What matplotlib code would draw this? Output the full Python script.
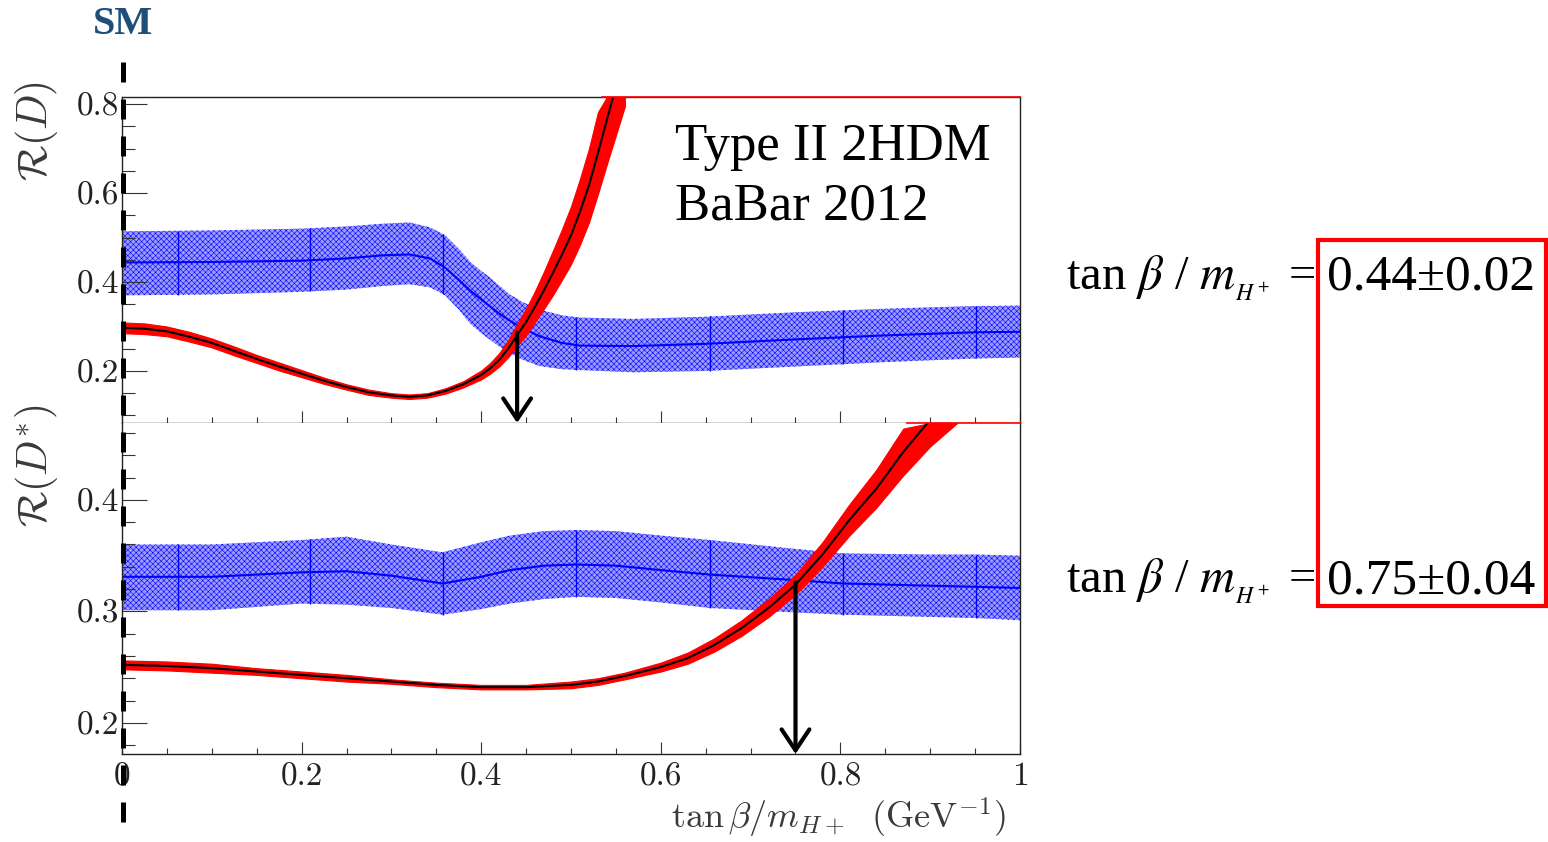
import numpy as np
import matplotlib.pyplot as plt
from matplotlib.patches import Rectangle
from matplotlib.lines import Line2D
from matplotlib.ticker import MultipleLocator, FuncFormatter

plt.rcParams['mathtext.fontset'] = 'cm'
plt.rcParams['hatch.linewidth'] = 0.4

# ---- R(D): BaBar measurement band (blue) ----
xd_exp = [0, 0.1, 0.2, 0.25, 0.29, 0.32, 0.343, 0.36, 0.375, 0.388, 0.40, 0.41, 0.42, 0.432, 0.445, 0.465,
          0.49, 0.51, 0.57, 0.65, 0.75, 0.85, 0.95, 1.0]
rd_exp = [0.444, 0.445, 0.448, 0.453, 0.460, 0.462, 0.453, 0.432, 0.405, 0.38, 0.361, 0.345, 0.329, 0.313,
          0.297, 0.278, 0.263, 0.257, 0.256, 0.261, 0.271, 0.28, 0.287, 0.288]
rd_exp_hi = [0.514, 0.516, 0.52, 0.525, 0.531, 0.534, 0.523, 0.505, 0.475, 0.445, 0.425, 0.41, 0.392, 0.372,
             0.356, 0.338, 0.325, 0.32, 0.317, 0.322, 0.332, 0.34, 0.346, 0.347]
rd_exp_lo = [0.370, 0.372, 0.378, 0.383, 0.391, 0.395, 0.388, 0.37, 0.338, 0.306, 0.285, 0.27, 0.255, 0.24,
             0.226, 0.211, 0.204, 0.202, 0.197, 0.2, 0.21, 0.22, 0.228, 0.23]

# ---- R(D): type II 2HDM prediction (red) ----
xd_th = [0, 0.025, 0.05, 0.075, 0.1, 0.125, 0.15, 0.175, 0.2, 0.225, 0.25, 0.275, 0.3, 0.32, 0.34, 0.36,
         0.38, 0.4, 0.41, 0.42, 0.43, 0.44, 0.45, 0.46, 0.47, 0.48, 0.49, 0.5, 0.51, 0.52, 0.53, 0.54, 0.55, 0.56]
rd_th = [0.297, 0.295, 0.289, 0.277, 0.263, 0.245, 0.227, 0.210, 0.194, 0.178, 0.164, 0.152, 0.145, 0.142,
         0.145, 0.155, 0.17, 0.191, 0.206, 0.225, 0.25, 0.281, 0.31, 0.345, 0.382, 0.421, 0.462, 0.505, 0.558,
         0.617, 0.69, 0.765, 0.84, 0.915]
rd_th_err = [0.012, 0.012, 0.011, 0.011, 0.010, 0.010, 0.009, 0.009, 0.008, 0.007, 0.006, 0.006, 0.005, 0.005,
             0.005, 0.006, 0.007, 0.01, 0.012, 0.015, 0.019, 0.025, 0.03, 0.035, 0.042, 0.05, 0.057, 0.065,
             0.074, 0.083, 0.092, 0.1, 0.11, 0.12]

# ---- R(D*): BaBar measurement band (blue) ----
xds_exp = [0, 0.1, 0.2, 0.25, 0.3, 0.357, 0.4, 0.432, 0.47, 0.506, 0.55, 0.6, 0.655, 0.75, 0.803, 0.9, 0.951, 1.0]
rds_exp = [0.331, 0.331, 0.335, 0.336, 0.332, 0.325, 0.331, 0.337, 0.341, 0.342, 0.341, 0.337, 0.333, 0.328,
           0.325, 0.323, 0.322, 0.321]
rds_exp_hi = [0.36, 0.36, 0.364, 0.367, 0.36, 0.353, 0.362, 0.368, 0.372, 0.373, 0.372, 0.368, 0.364, 0.356,
              0.352, 0.351, 0.351, 0.35]
rds_exp_lo = [0.301, 0.301, 0.307, 0.306, 0.303, 0.297, 0.302, 0.307, 0.311, 0.313, 0.312, 0.308, 0.303, 0.299,
              0.297, 0.295, 0.294, 0.292]

# ---- R(D*): type II 2HDM prediction (red) ----
xds_th = [0, 0.05, 0.1, 0.15, 0.2, 0.25, 0.3, 0.35, 0.4, 0.45, 0.5, 0.53, 0.56, 0.6, 0.63, 0.66, 0.69, 0.72,
          0.75, 0.78, 0.81, 0.84, 0.87, 0.9, 0.93]
rds_th = [0.252, 0.251, 0.249, 0.246, 0.243, 0.24, 0.237, 0.234, 0.232, 0.232, 0.234, 0.237, 0.242, 0.25,
          0.258, 0.27, 0.285, 0.303, 0.324, 0.351, 0.382, 0.41, 0.443, 0.472, 0.505]
rds_th_err = [0.004, 0.004, 0.004, 0.003, 0.003, 0.003, 0.002, 0.002, 0.002, 0.002, 0.003, 0.003, 0.003, 0.004,
              0.005, 0.006, 0.007, 0.008, 0.009, 0.011, 0.014, 0.017, 0.021, 0.024, 0.028]

# error bar positions of the measured points
bar_x = [0.062, 0.209, 0.357, 0.506, 0.655, 0.803, 0.951]

# crossing points (arrows) and results
cross_x = [0.44, 0.75]
cross_y = [0.286, 0.326]
results = ['0.44\u00b10.02', '0.75\u00b10.04']

ylim_d = (0.083, 0.816)
ylim_ds = (0.172, 0.469)

W, H = 1548, 842
fig = plt.figure(figsize=(W / 100, H / 100), dpi=100)


def fx(px):
    return px / W


def fy(py):
    return 1 - py / H


ax1 = fig.add_axes([fx(122), fy(423), fx(1020) - fx(122), fy(97) - fy(423)])
ax2 = fig.add_axes([fx(122), fy(754), fx(1020) - fx(122), fy(423) - fy(754)])


def draw_panel(ax, xe, ce, he, le, xt, ct, et, ylim, major, minor, ax_x, ax_y):
    ax.fill_between(xe, le, he, facecolor='#9a9aff', edgecolor='blue', hatch='xxxxxx', linewidth=0, zorder=1)
    ax.plot(xe, ce, color='blue', lw=1.5, zorder=2)
    ax.vlines(bar_x, np.interp(bar_x, xe, le), np.interp(bar_x, xe, he), color='blue', lw=1, zorder=2)
    ct = np.array(ct)
    et = np.array(et)
    lo = np.clip(ct - et, ylim[0], ylim[1])
    hi = np.clip(ct + et, ylim[0], ylim[1])
    ax.fill_between(xt, lo, hi, color='red', lw=0.8, zorder=3)
    ax.plot(xt, ct, color='black', lw=1.5, zorder=4)
    # red edge of the band running along the upper frame
    x_top = np.interp(ylim[1], ct + et, xt)
    ax.plot([x_top, 1], [ylim[1], ylim[1]], color='red', lw=1.2, clip_on=False, zorder=5)

    ax.annotate('', xy=(ax_x, ylim[0]), xytext=(ax_x, ax_y),
                arrowprops=dict(arrowstyle='->,head_length=0.75,head_width=0.5', lw=3,
                                color='black', shrinkA=0, shrinkB=0, mutation_scale=20),
                zorder=6)

    ax.set_xlim(0, 1)
    ax.set_ylim(*ylim)
    ax.xaxis.set_major_locator(MultipleLocator(0.2))
    ax.xaxis.set_minor_locator(MultipleLocator(0.05))
    ax.yaxis.set_major_locator(MultipleLocator(major))
    ax.yaxis.set_minor_locator(MultipleLocator(minor))
    ax.tick_params(axis='x', which='major', direction='in', length=9, width=0.8, color='#333333')
    ax.tick_params(axis='x', which='minor', direction='in', length=4.5, width=0.8, color='#333333')
    ax.tick_params(axis='y', which='major', direction='in', length=18, width=0.8, color='#333333', pad=2)
    ax.tick_params(axis='y', which='minor', direction='in', length=9, width=0.8, color='#333333')
    ax.tick_params(labelsize=24, labelfontfamily='cmr10', labelcolor='#222222')
    ax.yaxis.set_major_formatter(FuncFormatter(lambda v, p: f'{v:g}'))
    ax.xaxis.set_major_formatter(FuncFormatter(lambda v, p: f'{v:g}'))
    for s in ax.spines.values():
        s.set_linewidth(1.0)
        s.set_color('#222222')


draw_panel(ax1, xd_exp, rd_exp, rd_exp_hi, rd_exp_lo, xd_th, rd_th, rd_th_err,
           ylim_d, 0.2, 0.05, cross_x[0], cross_y[0])
draw_panel(ax2, xds_exp, rds_exp, rds_exp_hi, rds_exp_lo, xds_th, rds_th, rds_th_err,
           ylim_ds, 0.1, 0.02, cross_x[1], cross_y[1])
ax1.set_yticks([0.2, 0.4, 0.6, 0.8])
ax1.tick_params(axis='x', labelbottom=False)
ax2.set_yticks([0.2, 0.3, 0.4])
ax2.tick_params(axis='x', pad=6)
ax2.spines['top'].set_visible(False)

# axis titles
fig.text(fx(36), fy(131), r'$\mathcal{R}(D)$', rotation=90, ha='center', va='center',
         fontsize=30, color='#3a3a3a')
fig.text(fx(36), fy(466), r'$\mathcal{R}(D^{*})$', rotation=90, ha='center', va='center',
         fontsize=30, color='#3a3a3a')
fig.text(fx(1006), fy(829), r'$\tan\beta/m_{H+}\ \ (\mathrm{GeV}^{-1})$', ha='right', va='baseline',
         fontsize=26, color='#3a3a3a')

# plot annotation
fig.text(fx(675), fy(160), 'Type II 2HDM', fontsize=38, family='Liberation Serif', va='baseline')
fig.text(fx(675), fy(220), 'BaBar 2012', fontsize=38, family='Liberation Serif', va='baseline')

# SM line
fig.add_artist(Line2D([fx(123), fx(123)], [fy(62), fy(830)], transform=fig.transFigure,
                      color='black', lw=3.6, dashes=(4, 3.4)))
fig.text(fx(123), fy(25), 'SM', fontsize=29, family='Liberation Serif', weight='bold',
         color='#1f4e79', ha='center', va='center')

# results on the right
for yb, res in zip([290, 593], results):
    fig.text(fx(1316), fy(yb), r'tan $\beta$ / $m_{_{H^+}}$ =', fontsize=35,
             family=['Liberation Serif', 'DejaVu Serif'], math_fontfamily='stix', ha='right', va='baseline')
    fig.text(fx(1327), fy(yb), res, fontsize=37, family=['Liberation Serif', 'DejaVu Serif'],
             ha='left', va='baseline')

fig.add_artist(Rectangle((fx(1318), fy(606)), fx(1546) - fx(1318), fy(240) - fy(606),
                         transform=fig.transFigure, fill=False, edgecolor='red', lw=3))

fig.savefig('out.png', dpi=100)
